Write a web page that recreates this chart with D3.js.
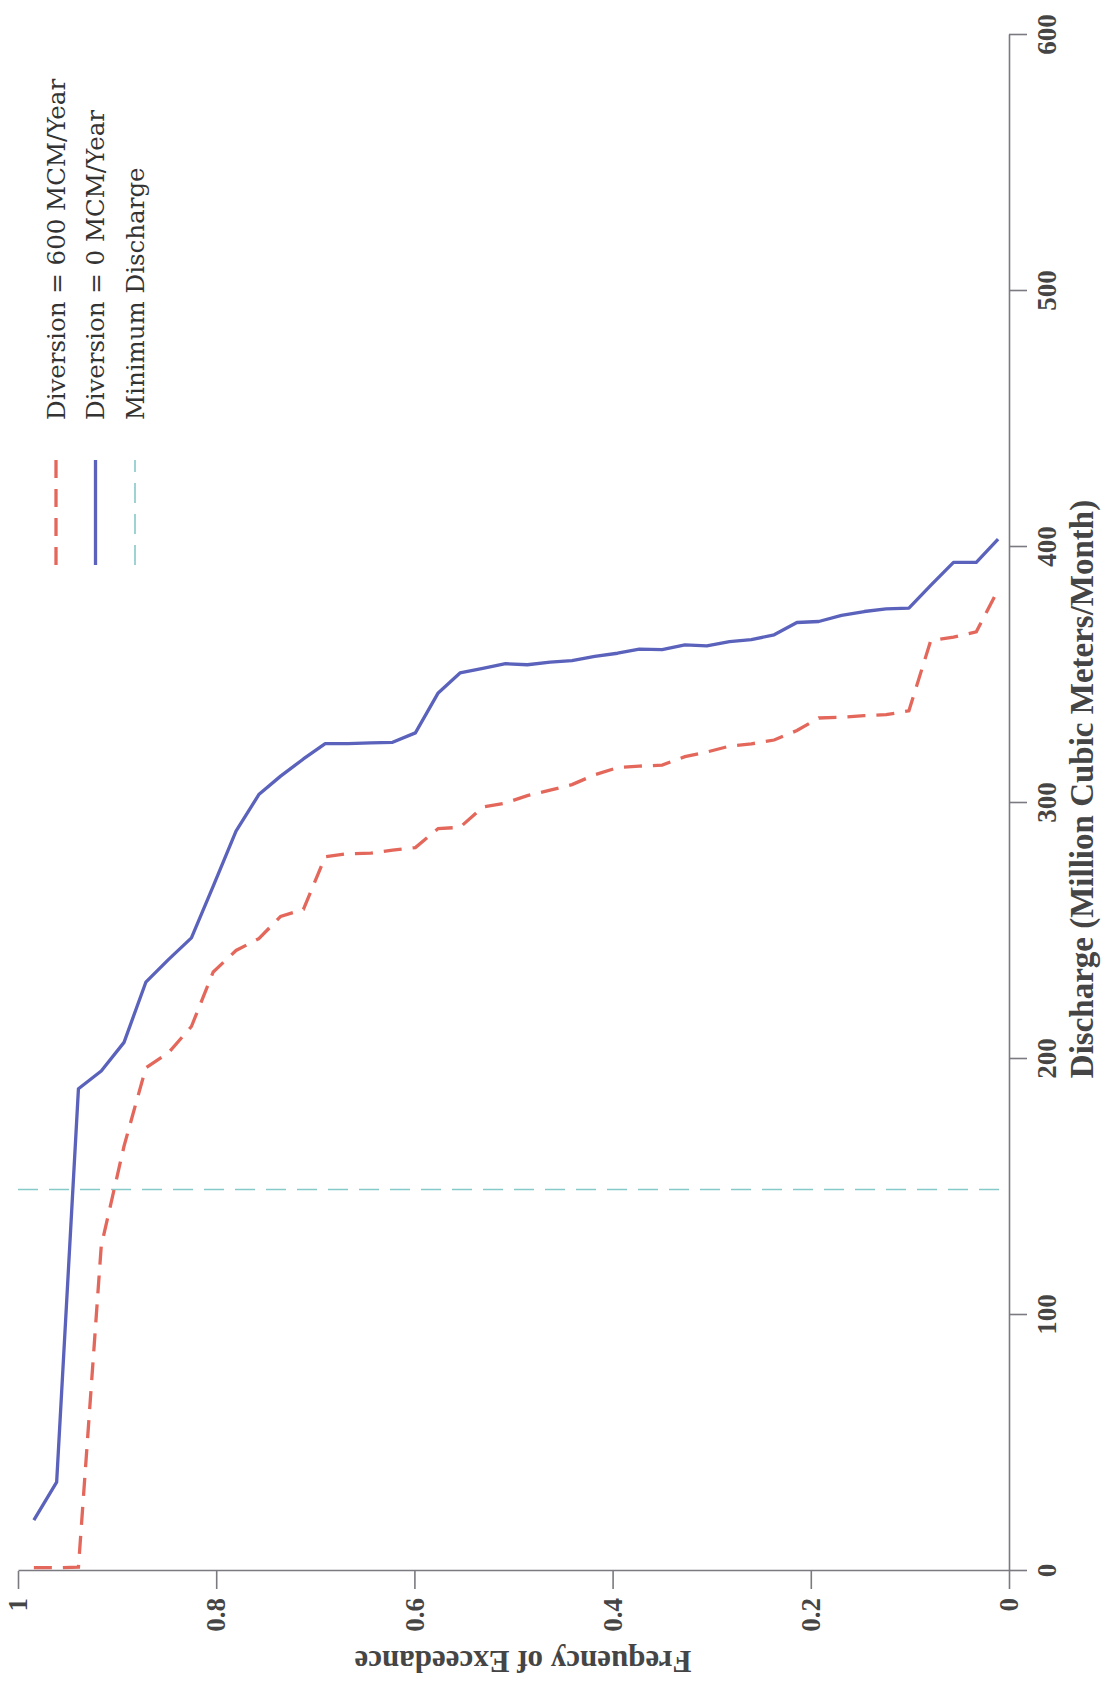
<!DOCTYPE html>
<html>
<head>
<meta charset="utf-8">
<script src="https://cdn.jsdelivr.net/npm/d3@7"></script>
<style>
  body { margin: 0; background: #fff; }
  .axis path, .axis line { stroke: #7a7a80; stroke-width: 1.6; }
  .axis text { font-family: "Liberation Serif", serif; font-weight: bold; font-size: 27px; fill: #454545; }
  .title { font-family: "Liberation Serif", serif; font-weight: bold; fill: #454545; }
  .legend text { font-family: "DejaVu Serif", serif; font-size: 24.5px; fill: #333; }
</style>
</head>
<body>
<div id="plot"></div>
<script>
// frequency of exceedance of each ranked month (same for both runs)
var freq = [0.984, 0.961, 0.939, 0.916, 0.893, 0.871, 0.848, 0.825, 0.803, 0.780, 0.757,
  0.735, 0.712, 0.690, 0.667, 0.644, 0.622, 0.599, 0.576, 0.554, 0.531, 0.508, 0.486,
  0.463, 0.441, 0.418, 0.395, 0.373, 0.350, 0.327, 0.305, 0.282, 0.260, 0.237, 0.214,
  0.192, 0.169, 0.146, 0.124, 0.101, 0.079, 0.056, 0.033, 0.011];

// discharge, million m3 / month
var divert0 = [19.9, 34.7, 188.4, 195.3, 206.5, 230, 238.9, 247.3, 267.5, 289, 303.3,
  310.5, 317.2, 323.2, 323.2, 323.5, 323.7, 327.4, 343, 350.8, 352.6, 354.4, 354,
  355, 355.6, 357.3, 358.5, 360.1, 359.9, 361.8, 361.4, 363, 363.8, 365.7, 370.5,
  370.9, 373.3, 374.8, 375.8, 376.1, 385, 394, 394, 403.1];

var divert600 = [1.3, 1.3, 1.5, 127, 166, 196.5, 202.5, 212.7, 234, 242.4, 247,
  255.7, 258.4, 279, 280.2, 280.4, 281.6, 282.6, 290, 290.5, 298.4, 300, 302.9,
  305, 307.2, 311, 313.8, 314.4, 314.8, 318.1, 319.9, 322.2, 323.1, 324.6, 328.3,
  333.2, 333.5, 334.1, 334.5, 336, 363.4, 364.8, 366.9, 383.3];

var minDischarge = 149;

var dischargeTicks = [0, 100, 200, 300, 400, 500, 600];
var freqTicks = [0, 0.2, 0.4, 0.6, 0.8, 1];
var legendLabels = ["Diversion = 600 MCM/Year", "Diversion = 0 MCM/Year", "Minimum Discharge"];

var red = "#e4675b", blue = "#5a62bb", cyan = "#86c9c9";

var width = 1536, height = 991;

var svg = d3.select("#plot")
  .append("svg")
  .attr("width", 1104)
  .attr("height", 1686);

// plot drawn the normal way, then turned a quarter turn counter-clockwise
var g = svg.append("g")
  .attr("transform", "translate(18,1571) rotate(-90)");

var xScale = d3.scaleLinear()
  .domain([0, 600])
  .range([0, width]);

var yScale = d3.scaleLinear()
  .domain([0, 1])
  .range([height, 0]);

g.append("g")
  .attr("class", "axis")
  .attr("transform", "translate(0," + height + ")")
  .call(d3.axisBottom(xScale).tickValues(dischargeTicks).tickSize(18).tickSizeOuter(0).tickPadding(10))

g.append("g")
  .attr("class", "axis")
  .call(d3.axisLeft(yScale).tickValues(freqTicks).tickSize(18).tickSizeOuter(0).tickPadding(9)
    .tickFormat(d3.format("~g")))

g.append("text")
  .attr("class", "title")
  .attr("x", 782)
  .attr("y", height + 84)
  .attr("text-anchor", "middle")
  .style("font-size", "33px")
  .text("Discharge (Million Cubic Meters/Month)")

g.append("text")
  .attr("class", "title")
  .attr("transform", "translate(-80,505) rotate(-90)")
  .attr("text-anchor", "middle")
  .style("font-size", "31px")
  .text("Frequency of Exceedance")

// minimum discharge reference
g.append("line")
  .attr("x1", xScale(minDischarge))
  .attr("x2", xScale(minDischarge))
  .attr("y1", yScale(1))
  .attr("y2", yScale(0))
  .attr("stroke", cyan)
  .attr("stroke-width", 1.6)
  .attr("stroke-dasharray", "20,11")

var line = d3.line()
  .x(d => xScale(d[1]))
  .y(d => yScale(d[0]))

g.append("path")
  .datum(d3.zip(freq, divert0))
  .attr("d", line)
  .attr("fill", "none")
  .attr("stroke", blue)
  .attr("stroke-width", 3.3)
  .attr("stroke-linejoin", "round")

g.append("path")
  .datum(d3.zip(freq, divert600))
  .attr("d", line)
  .attr("fill", "none")
  .attr("stroke", red)
  .attr("stroke-width", 3.3)
  .attr("stroke-dasharray", "18,11")

// legend, top right of the unrotated plot
var styles = [
  { color: red, width: 3.3, dash: "18,11" },
  { color: blue, width: 3.3, dash: null },
  { color: cyan, width: 1.6, dash: "20,11" }
];
var leg = g.append("g").attr("class", "legend")
  .selectAll("g")
  .data(legendLabels)
  .enter()
  .append("g")
  .attr("transform", (d, i) => "translate(1006," + (38 + i * 39.5) + ")")

leg.append("line")
  .attr("x1", 0)
  .attr("x2", 105)
  .attr("stroke", (d, i) => styles[i].color)
  .attr("stroke-width", (d, i) => styles[i].width)
  .attr("stroke-dasharray", (d, i) => styles[i].dash)

leg.append("text")
  .attr("x", 145)
  .attr("dy", "0.35em")
  .text(d => d)
</script>
</body>
</html>
